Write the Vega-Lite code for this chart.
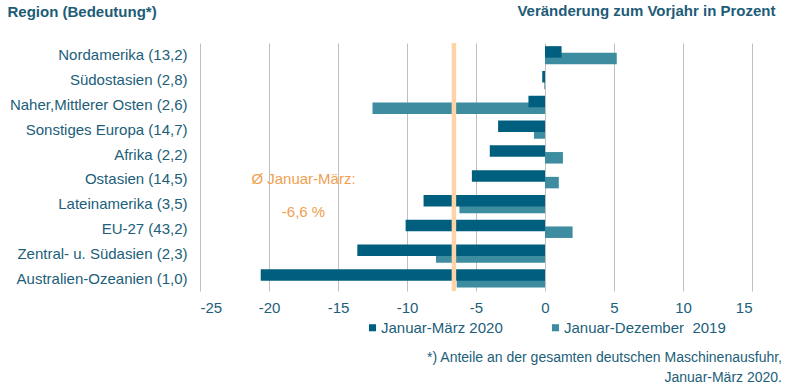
{
  "$schema": "https://vega.github.io/schema/vega-lite/v6.json",
  "width": 552,
  "height": 248,
  "autosize": "none",
  "padding": {"left": 200, "top": 43, "right": 40, "bottom": 97},
  "background": "white",
  "config": {
    "font": "Liberation Sans",
    "view": {"stroke": null},
    "axis": {"labelFont": "Liberation Sans", "titleFont": "Liberation Sans"}
  },
  "title": {
    "text": ["*) Anteile an der gesamten deutschen Maschinenausfuhr,", "Januar-März 2020."],
    "orient": "bottom",
    "anchor": "end",
    "frame": "group",
    "fontSize": 14,
    "fontWeight": "normal",
    "color": "#215E79",
    "lineHeight": 20,
    "dx": 30,
    "offset": 15
  },
  "datasets": {
    "bars": [
      {"region": "Nordamerika (13,2)", "series": "Januar-März 2020", "value": 1.2},
      {"region": "Nordamerika (13,2)", "series": "Januar-Dezember \u00a02019", "value": 5.2},
      {"region": "Südostasien (2,8)", "series": "Januar-März 2020", "value": -0.2},
      {"region": "Südostasien (2,8)", "series": "Januar-Dezember \u00a02019", "value": -0.05},
      {"region": "Naher,Mittlerer Osten (2,6)", "series": "Januar-März 2020", "value": -1.2},
      {"region": "Naher,Mittlerer Osten (2,6)", "series": "Januar-Dezember \u00a02019", "value": -12.5},
      {"region": "Sonstiges Europa (14,7)", "series": "Januar-März 2020", "value": -3.4},
      {"region": "Sonstiges Europa (14,7)", "series": "Januar-Dezember \u00a02019", "value": -0.8},
      {"region": "Afrika (2,2)", "series": "Januar-März 2020", "value": -4.0},
      {"region": "Afrika (2,2)", "series": "Januar-Dezember \u00a02019", "value": 1.3},
      {"region": "Ostasien (14,5)", "series": "Januar-März 2020", "value": -5.3},
      {"region": "Ostasien (14,5)", "series": "Januar-Dezember \u00a02019", "value": 1.0},
      {"region": "Lateinamerika (3,5)", "series": "Januar-März 2020", "value": -8.8},
      {"region": "Lateinamerika (3,5)", "series": "Januar-Dezember \u00a02019", "value": -6.2},
      {"region": "EU-27 (43,2)", "series": "Januar-März 2020", "value": -10.1},
      {"region": "EU-27 (43,2)", "series": "Januar-Dezember \u00a02019", "value": 2.0},
      {"region": "Zentral- u. Südasien (2,3)", "series": "Januar-März 2020", "value": -13.6},
      {"region": "Zentral- u. Südasien (2,3)", "series": "Januar-Dezember \u00a02019", "value": -7.9},
      {"region": "Australien-Ozeanien (1,0)", "series": "Januar-März 2020", "value": -20.6},
      {"region": "Australien-Ozeanien (1,0)", "series": "Januar-Dezember \u00a02019", "value": -6.4}
    ],
    "avg": [{"avg": -6.6}],
    "notes": [
      {"x": -17.5, "region": "Ostasien (14,5)", "label": "Ø Januar-März:", "line": 1},
      {"x": -17.5, "region": "Lateinamerika (3,5)", "label": "-6,6 %", "line": 2}
    ]
  },
  "encoding": {
    "y": {
      "field": "region",
      "type": "nominal",
      "sort": null,
      "scale": {
        "domain": ["Nordamerika (13,2)", "Südostasien (2,8)", "Naher,Mittlerer Osten (2,6)", "Sonstiges Europa (14,7)", "Afrika (2,2)", "Ostasien (14,5)", "Lateinamerika (3,5)", "EU-27 (43,2)", "Zentral- u. Südasien (2,3)", "Australien-Ozeanien (1,0)"],
        "paddingInner": 0,
        "paddingOuter": 0
      },
      "axis": {
        "title": "Region (Bedeutung*)",
        "titleAngle": 0,
        "titleAlign": "left",
        "titleBaseline": "middle",
        "titleX": -193,
        "titleY": -32,
        "titleFontSize": 15,
        "titleFontWeight": "bold",
        "titleColor": "#1D5C77",
        "labelFontSize": 15,
        "labelColor": "#215E79",
        "labelPadding": 13,
        "labelLimit": 300,
        "ticks": false,
        "domain": false,
        "grid": false
      }
    }
  },
  "layer": [
    {
      "data": {"name": "bars"},
      "transform": [{"filter": "datum.series !== 'Januar-März 2020'"}],
      "mark": {"type": "bar", "height": 11.5, "yOffset": 3.2},
      "encoding": {
        "x": {
          "field": "value",
          "type": "quantitative",
          "scale": {"domain": [-25, 15], "nice": false, "zero": false},
          "axis": {
            "values": [-25, -20, -15, -10, -5, 0, 5, 10, 15],
            "labelExpr": "replace(datum.label, '−', '-')",
            "title": "Veränderung zum Vorjahr in Prozent",
            "titleAnchor": "end",
            "titleAlign": "right",
            "titleBaseline": "middle",
            "titleX": 575,
            "titleY": -281,
            "titleFontSize": 15,
            "titleFontWeight": "bold",
            "titleColor": "#1D5C77",
            "labelFontSize": 15,
            "labelColor": "#215E79",
            "labelPadding": 9,
            "ticks": false,
            "domain": false,
            "grid": true,
            "gridColor": "#BFBFBF",
            "gridWidth": 1
          }
        },
        "color": {
          "field": "series",
          "type": "nominal",
          "scale": {"domain": ["Januar-März 2020", "Januar-Dezember \u00a02019"], "range": ["#005F7F", "#3E8C9F"]},
          "legend": {
            "title": null,
            "orient": "none",
            "direction": "horizontal",
            "legendX": 165,
            "legendY": 277,
            "symbolType": "square",
            "symbolSize": 50,
            "symbolStrokeWidth": 0,
            "labelFontSize": 15,
            "labelColor": "#215E79",
            "labelOffset": 1,
            "labelLimit": 300,
            "columnPadding": 45,
            "padding": 0
          }
        }
      }
    },
    {
      "data": {"name": "bars"},
      "transform": [{"filter": "datum.series === 'Januar-März 2020'"}],
      "mark": {"type": "bar", "height": 11.5, "yOffset": -3.5},
      "encoding": {
        "x": {"field": "value", "type": "quantitative"},
        "color": {"field": "series", "type": "nominal"}
      }
    },
    {
      "data": {"name": "avg"},
      "mark": {"type": "rule", "color": "#FDD3A7", "strokeWidth": 4.5},
      "encoding": {
        "x": {"field": "avg", "type": "quantitative"},
        "y": {"value": 0},
        "y2": {"value": 248}
      }
    },
    {
      "data": {"name": "notes"},
      "transform": [{"filter": "datum.line === 1"}],
      "mark": {"type": "text", "color": "#F0A050", "fontSize": 15, "align": "center", "baseline": "middle"},
      "encoding": {
        "x": {"field": "x", "type": "quantitative"},
        "text": {"field": "label"}
      }
    },
    {
      "data": {"name": "notes"},
      "transform": [{"filter": "datum.line === 2"}],
      "mark": {"type": "text", "color": "#F0A050", "fontSize": 15, "align": "center", "baseline": "middle", "dy": 8},
      "encoding": {
        "x": {"field": "x", "type": "quantitative"},
        "text": {"field": "label"}
      }
    }
  ]
}
